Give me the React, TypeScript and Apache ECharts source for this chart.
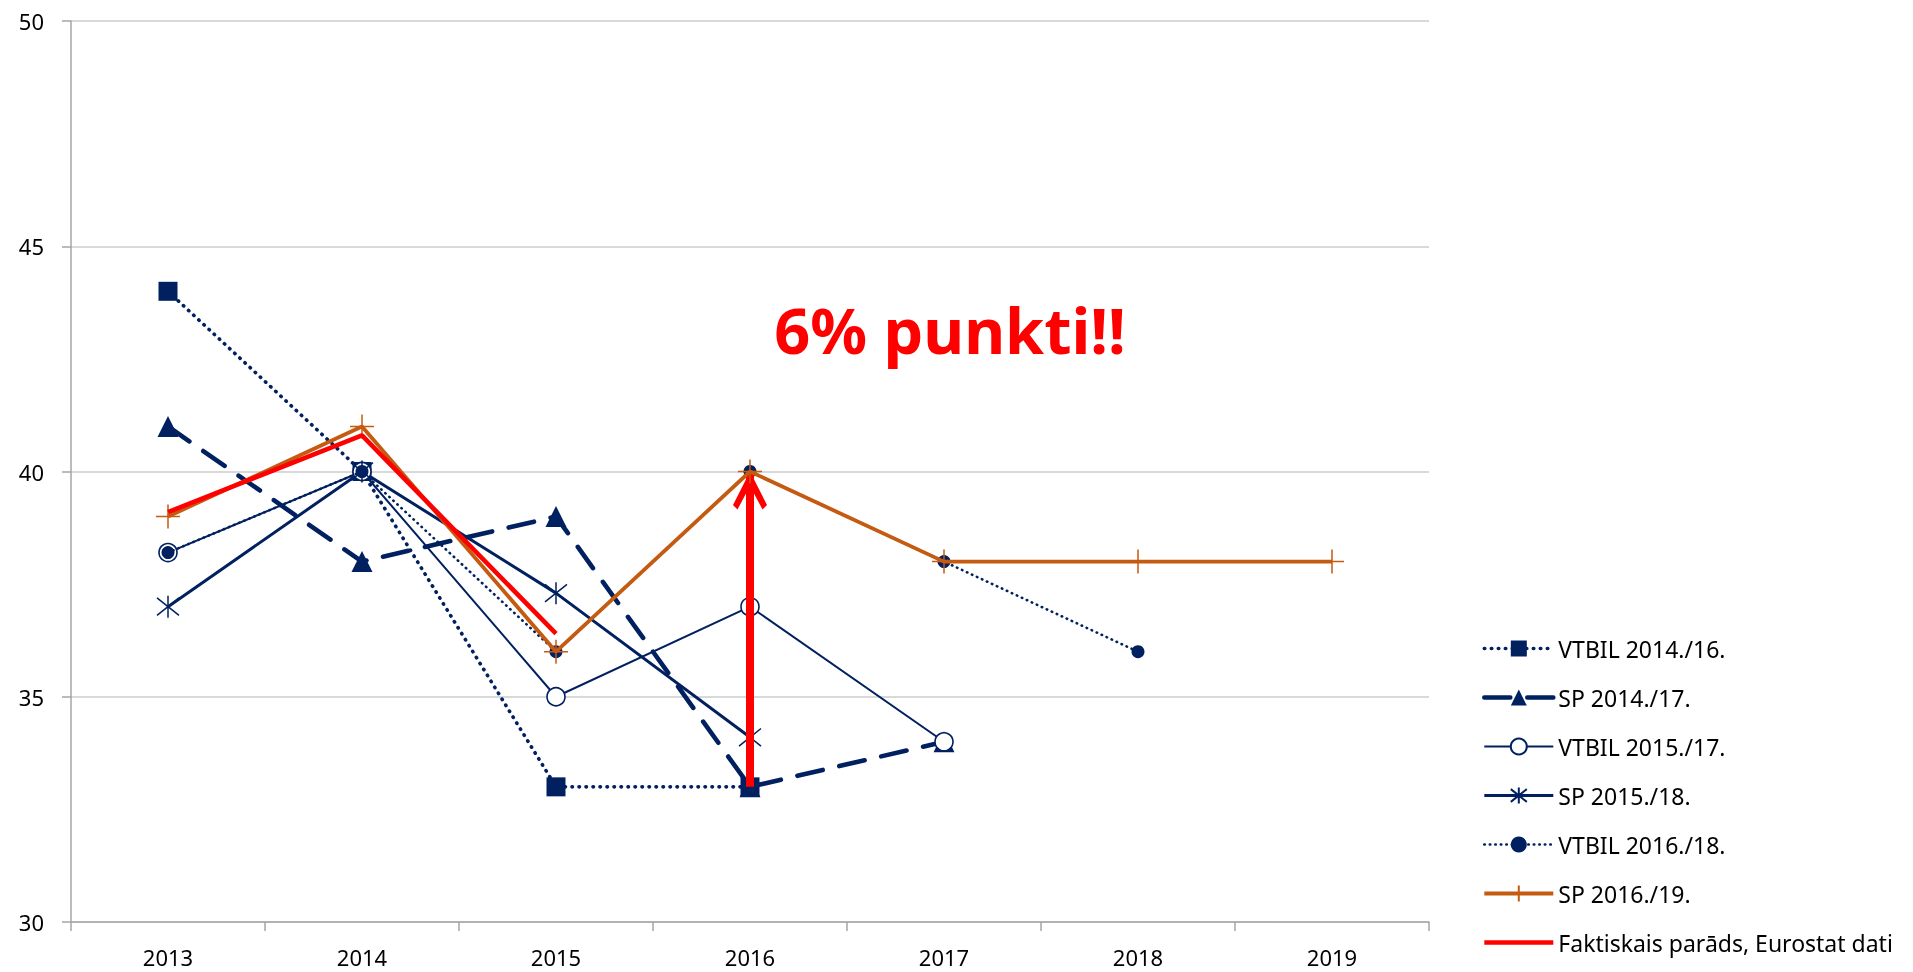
import React, { useEffect, useRef } from "react";
import * as echarts from "echarts";

const years = ["2013", "2014", "2015", "2016", "2017", "2018", "2019"];
const vtbil1416 = [44, 40, 33, 33, null, null, null];
const sp1417 = [41, 38, 39, 33, 34, null, null];
const vtbil1517 = [38.2, 40, 35, 37, 34, null, null];
const sp1518 = [37, 40, 37.3, 34.1, null, null, null];
const vtbil1618 = [38.2, 40, 36, 40, 38, 36, null];
const sp1619 = [39, 41, 36, 40, 38, 38, 38];
const faktiskais = [39.1, 40.8, 36.4, null, null, null, null];
const arrowFrom = 33;
const arrowTo = 40;
const arrowYear = "2016";
const noteText = "6% punkti!!";

const NAVY = "#002060";
const ORANGE = "#C55A11";
const RED = "#FF0000";

const starPath = "path://M0,-10L0,10M-8,-8L8,8M-8,8L8,-8";
const plusPath = "path://M-10,0L10,0M0,-10L0,10";
const chevronPath = "path://M0,0L17,30L12.5,34L0,13L-12.5,34L-17,30Z";

const S1 = { name: "VTBIL 2014./16.", line: { color: NAVY, width: 3.6, type: [0.5, 6.5], cap: "round" } };
const S2 = { name: "SP 2014./17.", line: { color: NAVY, width: 4.6, type: [26, 17], cap: "round" } };
const S3 = { name: "VTBIL 2015./17.", line: { color: NAVY, width: 2 } };
const S4 = { name: "SP 2015./18.", line: { color: NAVY, width: 3 } };
const S5 = { name: "VTBIL 2016./18.", line: { color: NAVY, width: 2.6, type: [0.5, 5], cap: "round" } };
const S6 = { name: "SP 2016./19.", line: { color: ORANGE, width: 3.8 } };
const S7 = { name: "Faktiskais parāds, Eurostat dati", line: { color: RED, width: 4.6 } };

export default function App() {
  const ref = useRef<HTMLDivElement>(null);
  useEffect(() => {
    if (!ref.current) return;
    const chart = echarts.init(ref.current, null, { renderer: "svg" });
    const font = "Noto Sans";
    chart.setOption({
      animation: false,
      textStyle: { fontFamily: font },
      grid: { left: 71, right: 484, top: 21, bottom: 50 },
      legend: {
        orient: "vertical",
        left: 1482,
        top: 637,
        height: 340,
        padding: 0,
        itemWidth: 69,
        itemHeight: 20,
        itemGap: 26,
        textStyle: { fontSize: 23, color: "#000", fontFamily: font },
        data: [
          { name: S1.name, lineStyle: S1.line },
          { name: S2.name, lineStyle: S2.line },
          { name: S3.name, lineStyle: S3.line },
          { name: S4.name, lineStyle: S4.line },
          { name: S5.name, lineStyle: S5.line },
          { name: S6.name, lineStyle: S6.line },
          { name: S7.name, lineStyle: S7.line, itemStyle: { opacity: 0 } },
        ],
      },
      xAxis: {
        type: "category",
        data: years,
        boundaryGap: true,
        axisLine: { lineStyle: { color: "#A6A6A6", width: 1.5 } },
        axisTick: { show: true, length: 9, lineStyle: { color: "#A6A6A6", width: 1.5 } },
        axisLabel: { fontSize: 22, color: "#000", margin: 24, fontFamily: font },
      },
      yAxis: {
        type: "value",
        min: 30,
        max: 50,
        interval: 5,
        axisLine: { show: true, lineStyle: { color: "#A6A6A6", width: 1.5 } },
        axisTick: { show: true, length: 9, lineStyle: { color: "#A6A6A6", width: 1.5 } },
        axisLabel: { fontSize: 22, color: "#000", margin: 27, fontFamily: font },
        splitLine: { lineStyle: { color: "#CCCCCC", width: 1.5 } },
      },
      graphic: [
        {
          type: "text",
          x: 950,
          y: 329,
          style: {
            text: noteText,
            fill: RED,
            font: `bold 63px "${font}"`,
            align: "center",
            verticalAlign: "middle",
          },
          z: 100,
        },
      ],
      series: [
        {
          name: S1.name,
          type: "line",
          data: vtbil1416,
          symbol: "rect",
          symbolSize: 19,
          lineStyle: S1.line,
          itemStyle: { color: NAVY },
          z: 3,
        },
        {
          name: S2.name,
          type: "line",
          data: sp1417,
          symbol: "triangle",
          symbolSize: 21,
          lineStyle: S2.line,
          itemStyle: { color: NAVY },
          z: 3,
        },
        {
          name: S3.name,
          type: "line",
          data: vtbil1517,
          symbol: "circle",
          symbolSize: 18,
          lineStyle: S3.line,
          itemStyle: { color: "#fff", borderColor: NAVY, borderWidth: 1.6 },
          z: 3,
        },
        {
          name: S4.name,
          type: "line",
          data: sp1518,
          symbol: starPath,
          symbolSize: 22,
          lineStyle: S4.line,
          itemStyle: { color: "transparent", borderColor: NAVY, borderWidth: 1.5 },
          z: 3,
        },
        {
          name: S5.name,
          type: "line",
          data: vtbil1618,
          symbol: "circle",
          symbolSize: 13,
          lineStyle: S5.line,
          itemStyle: { color: NAVY },
          z: 4,
        },
        {
          name: S6.name,
          type: "line",
          data: sp1619,
          symbol: plusPath,
          symbolSize: 24,
          lineStyle: S6.line,
          itemStyle: { color: "transparent", borderColor: ORANGE, borderWidth: 1.5 },
          z: 5,
        },
        {
          name: S7.name,
          type: "line",
          data: faktiskais,
          symbol: "none",
          showSymbol: false,
          lineStyle: S7.line,
          itemStyle: { color: RED },
          z: 6,
          markLine: {
            silent: true,
            symbol: ["none", chevronPath],
            symbolSize: [34, 38],
            symbolOffset: [[0, 0], [0, 19]],
            label: { show: false },
            lineStyle: { color: RED, width: 8, type: "solid" },
            data: [
              [
                { coord: [arrowYear, arrowFrom] },
                { coord: [arrowYear, arrowTo] },
              ],
            ],
          },
        },
      ],
    });
    return () => chart.dispose();
  }, []);
  return (
    <div
      ref={ref}
      style={{ position: "fixed", left: 0, top: 0, width: 1913, height: 972 }}
    />
  );
}
